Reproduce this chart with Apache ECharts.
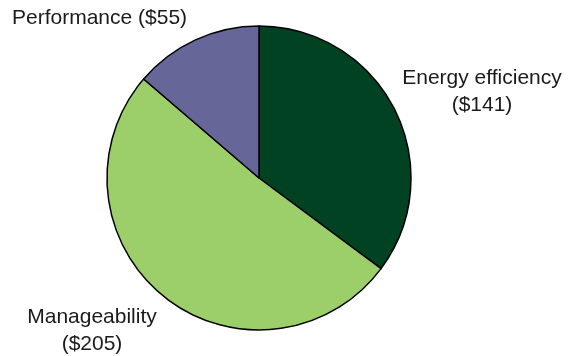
<!DOCTYPE html>
<html>
<head>
<meta charset="utf-8">
<script src="https://cdn.jsdelivr.net/npm/echarts@6/dist/echarts.min.js"></script>
<style>
  html, body { margin: 0; padding: 0; background: #ffffff; }
  #chart { width: 568px; height: 356px; }
</style>
</head>
<body>
<div id="chart"></div>
<script>
// data
var categories = ['Energy efficiency', 'Manageability', 'Performance'];
var values = [141, 205, 55];
var colors = ['#004222', '#9ccf6a', '#666699'];

// where each label sits (label layout only)
var labelPos = [
  { x: 482, y: 92, align: 'center' },
  { x: 92, y: 331, align: 'center' },
  { x: 12, y: 18, align: 'left' }
];

var chart = echarts.init(document.getElementById('chart'));

var data = categories.map(function (name, i) {
  var twoLines = i !== 2;
  return {
    name: name,
    value: values[i],
    itemStyle: { color: colors[i] },
    label: {
      formatter: name + (twoLines ? '\n' : ' ') + '($' + values[i] + ')'
    }
  };
});

var option = {
  animation: false,
  series: [
    {
      type: 'pie',
      center: [259, 178],
      radius: [0, 152],
      startAngle: 90,
      clockwise: true,
      itemStyle: {
        borderColor: '#000000',
        borderWidth: 1.5
      },
      label: {
        show: true,
        position: 'outside',
        color: '#1a1a1a',
        fontFamily: 'Liberation Sans, Arial, sans-serif',
        fontSize: 21,
        lineHeight: 27,
        align: 'center',
        width: 260,
        overflow: 'none'
      },
      labelLine: { show: false },
      labelLayout: function (params) {
        var p = labelPos[params.dataIndex];
        return { x: p.x, y: p.y, align: p.align, verticalAlign: 'middle' };
      },
      emphasis: { disabled: true },
      data: data
    }
  ]
};

chart.setOption(option);
</script>
</body>
</html>
